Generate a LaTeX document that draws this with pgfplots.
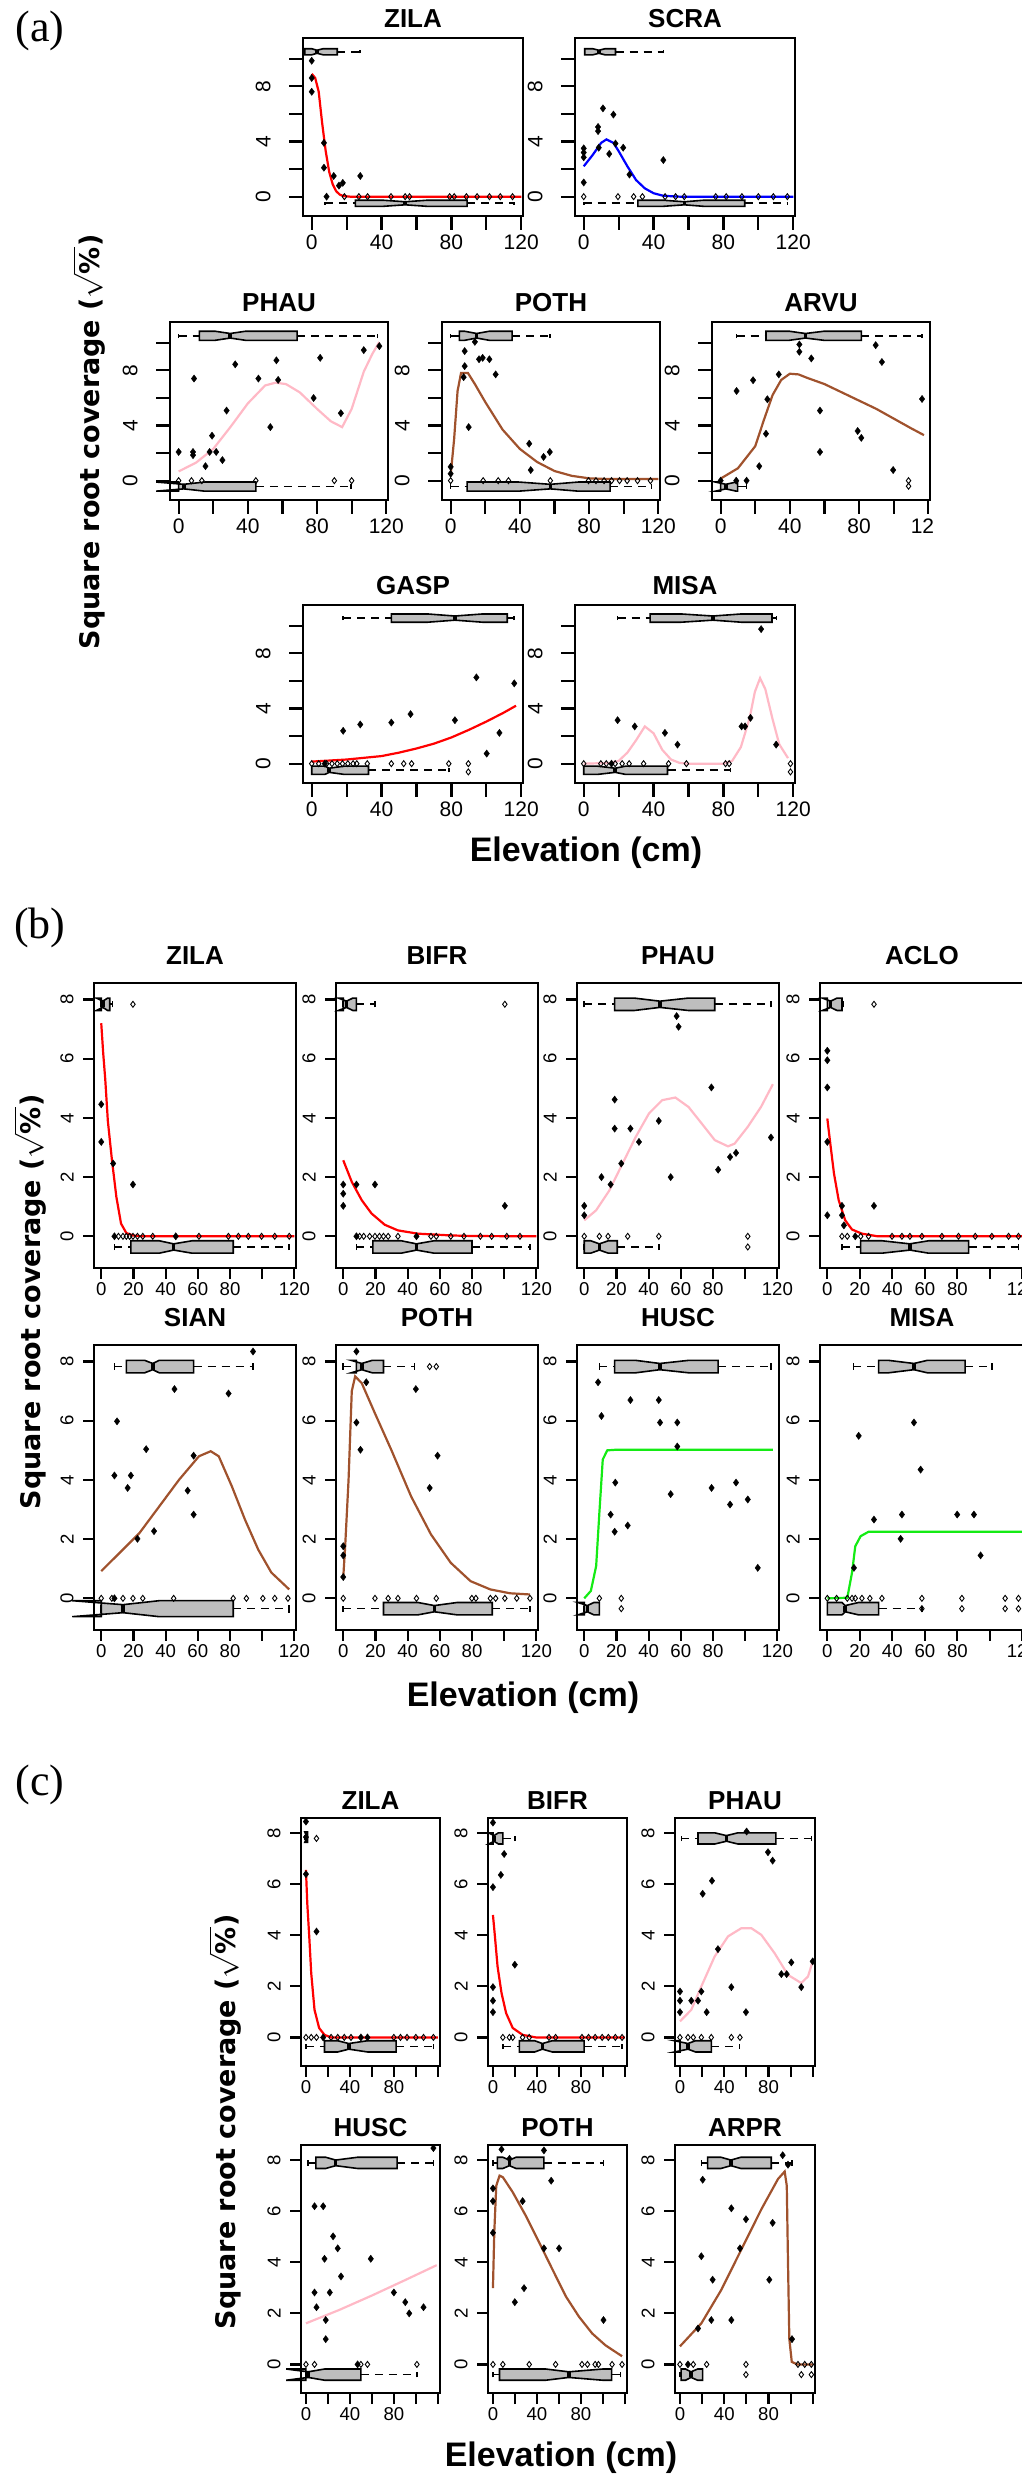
\documentclass[border=0pt]{standalone}
\usepackage{pgfplots}
\pgfplotsset{compat=1.18}
\usepackage{fontspec}
\setmainfont{Liberation Sans}
\newfontfamily\serifa{Liberation Serif}
\newfontfamily\ylabfont{DejaVu Sans}

\definecolor{rgray}{RGB}{190,190,190}
\definecolor{rpink}{RGB}{255,185,198}
\definecolor{rsienna}{RGB}{160,82,45}
\definecolor{rgreen}{RGB}{20,235,20}

\pgfplotsset{
  rpanel/.style={scale only axis, clip=false,
    axis line style={line width=1.1pt},
    tick align=outside, xtick pos=left, ytick pos=left,
    major tick length=7pt,
    every tick/.style={black, line width=1.1pt},
    yticklabel style={rotate=90, anchor=south},
    xticklabel style={anchor=north},
    title style={font=\bfseries\fontsize{13}{15}\selectfont, at={(0.5,1)}, anchor=base}},
  pa/.style={rpanel, xmin=-5, xmax=121, ymin=-1.4, ymax=11.5,
    xtick={0,20,...,120}, xticklabels={0,,40,,80,,120},
    ytick={0,2,...,10}, yticklabels={0,,4,,8,},
    ticklabel style={font=\fontsize{10.5}{12}\selectfont, inner sep=2pt},
    yticklabel shift=7pt,
    width=110pt, height=89pt, title style={yshift=-1pt}},
  pb/.style={rpanel, xmin=-4.5, xmax=121, ymin=-1.07, ymax=8.56,
    major tick length=5.5pt,
    xtick={0,20,...,120}, xticklabels={0,20,40,60,80,,120},
    ytick={0,2,...,8}, yticklabels={0,2,4,6,8},
    ticklabel style={font=\fontsize{9.3}{11}\selectfont, inner sep=1.5pt},
    yticklabel shift=3pt,
    width=101pt, height=142.5pt, title style={yshift=3pt}},
  pc/.style={rpanel, xmin=-4.5, xmax=122, ymin=-1.12, ymax=8.6,
    major tick length=5.5pt,
    xtick={0,20,...,120}, xticklabels={0,,40,,80,,},
    ytick={0,2,...,8}, yticklabels={0,2,4,6,8},
    ticklabel style={font=\fontsize{9.3}{11}\selectfont, inner sep=1.5pt},
    yticklabel shift=3pt,
    width=69.5pt, height=124pt, title style={yshift=-1.5pt}},
  dat/.style={only marks, mark=diamond*, mark size=1.8pt, black, mark options={fill=black, line width=0.2pt}},
  zr/.style={only marks, mark=diamond, mark size=1.5pt, black, mark options={line width=0.45pt}},
  cv/.style={line width=1.1pt},
  whisk/.style={black, line width=0.8pt, dash pattern=on 4pt off 3pt},
  cap/.style={black, line width=0.8pt},
  bx/.style={draw=black, fill=rgray, line width=0.8pt},
  med/.style={black, line width=1.8pt},
}

% notched horizontal box: y, half height, min, q1, notch low, median, notch high, q3, max
\newcommand{\nbox}[9]{%
  \pgfmathsetmacro\yl{#1-#2}\pgfmathsetmacro\yh{#1+#2}%
  \pgfmathsetmacro\yml{#1-0.5*#2}\pgfmathsetmacro\ymh{#1+0.5*#2}%
  \edef\tmp{%
    \noexpand\addplot[whisk] coordinates {(#3,#1) (#4,#1)};
    \noexpand\addplot[whisk] coordinates {(#8,#1) (#9,#1)};
    \noexpand\addplot[cap] coordinates {(#3,\yml) (#3,\ymh)};
    \noexpand\addplot[cap] coordinates {(#9,\yml) (#9,\ymh)};
    \noexpand\addplot[bx] coordinates {(#4,\yl) (#5,\yl) (#6,\yml) (#7,\yl) (#8,\yl) (#8,\yh) (#7,\yh) (#6,\ymh) (#5,\yh) (#4,\yh)} --cycle;
    \noexpand\addplot[med] coordinates {(#6,\yml) (#6,\ymh)};
  }\tmp}

\begin{document}
\begin{tikzpicture}
\useasboundingbox (0,0) rectangle (511pt,1240.5pt);

% ---------------- (a) ----------------
\node[font=\serifa\fontsize{22}{24}\selectfont] at (20pt,1225pt) {(a)};
\node[rotate=90, font=\ylabfont\bfseries\fontsize{13.5}{16}\selectfont] at (44.5pt,1019.5pt) {Square root coverage ($\sqrt{\mbox{\%}}$)};
\node[font=\bfseries\fontsize{17}{20}\selectfont] at (293pt,814pt) {Elevation (cm)};

\begin{axis}[pa, at={(151.5pt,1132.5pt)}, anchor=south west, title=ZILA]
\nbox{10.5}{0.22}{-4}{-4}{0}{3}{6.5}{14.6}{27.8}
\nbox{-0.48}{0.22}{7.5}{25}{41}{53.5}{66}{89}{116}
\addplot[zr] coordinates {(18.7,0)(27,0)(32,0)(45.4,0)(53.5,0)(56,0)(79,0)(81.6,0)(88.6,0)(94.7,0)(101.8,0)(108,0)(115,0)};
\addplot[dat] coordinates {(0,9.85)(0,8.6)(0,7.6)(7,3.9)(7,2.1)(12.6,1.5)(15.6,0.8)(17.8,1.0)(27.8,1.5)(8.5,0)};
\addplot[cv, red] coordinates {(0,8.9)(2,8.6)(4,7.6)(6,5.3)(8,3.3)(10,1.8)(12,0.9)(14,0.4)(16,0.15)(18,0.05)(22,0)(120,0)};
\end{axis}

\begin{axis}[pa, at={(287.5pt,1132.5pt)}, anchor=south west, title=SCRA]
\nbox{10.5}{0.22}{0.6}{0.6}{5.2}{8.7}{12.2}{18.2}{45.6}
\nbox{-0.48}{0.22}{0}{31}{45.6}{57.6}{68.6}{92.2}{116.6}
\addplot[zr] coordinates {(0,0)(19.6,0)(28.6,0)(33.6,0)(46.6,0)(52.6,0)(57.6,0)(75.6,0)(81.6,0)(90.6,0)(100,0)(108.6,0)(116.6,0)};
\addplot[dat] coordinates {(0,1.03)(0,3.5)(0,3.2)(0,2.85)(8.2,5.05)(8.2,4.75)(11,6.4)(17,5.95)(14.6,3.1)(18.2,3.85)(22.6,3.55)(26.2,1.6)(45.6,2.65)(8.6,3.55)};
\addplot[cv, blue] coordinates {(0,2.2)(5,3.0)(10,3.9)(13,4.15)(17,3.9)(20,3.3)(25,2.2)(30,1.2)(35,0.6)(40,0.25)(45,0.08)(50,0.03)(55,0)(120,0)};
\end{axis}

\begin{axis}[pa, at={(85pt,990.5pt)}, anchor=south west, width=109pt, title=PHAU]
\nbox{10.5}{0.33}{0}{12}{21}{29.8}{38.7}{68.5}{115}
\nbox{-0.43}{0.33}{0}{0}{-13}{3}{14.9}{44.6}{99.7}
\addplot[zr] coordinates {(0,0)(7.4,0)(13.4,0)(44.6,0)(90,0)(100,0)};
\addplot[dat] coordinates {(0,2.08)(8.9,7.4)(8.3,2.08)(8.3,1.85)(15.5,1.05)(19.3,3.26)(17.9,2.08)(21.7,2.08)(25.3,1.49)(27.7,5.08)(32.7,8.43)(46.1,7.4)(53,3.88)(56.5,8.72)(57.5,7.3)(78,5.99)(81.8,8.9)(93.75,4.89)(107,9.46)(116,9.75)};
\addplot[cv, rpink] coordinates {(0,0.67)(10,1.3)(20,2.3)(30,3.9)(40,5.6)(50,6.9)(56,7.1)(62,7.0)(70,6.4)(80,5.2)(88,4.3)(94.5,3.88)(100,5.2)(107,7.9)(112,9.2)(116,10.05)};
\end{axis}

\begin{axis}[pa, at={(221pt,990.5pt)}, anchor=south west, width=109pt, title=POTH]
\nbox{10.5}{0.33}{0}{5}{8}{15}{22.4}{35.5}{57.3}
\nbox{-0.43}{0.33}{0}{9.5}{39.4}{57.6}{73.7}{92.2}{116}
\addplot[zr] coordinates {(0,0)(18.8,0)(27.5,0)(33.4,0)(57.6,0)(79.7,0)(84,0)(88.7,0)(93,0)(97.6,0)(102,0)(108,0)(115.5,0)};
\addplot[dat] coordinates {(0,1.0)(0,0.5)(8.1,9.39)(8.1,8.3)(7.5,7.5)(14,10.06)(10.4,3.88)(16.4,8.8)(18.5,8.9)(22.4,8.8)(26,7.7)(45.4,2.68)(46.3,0.77)(53.7,1.72)(57.3,2.08)};
\addplot[cv, rsienna] coordinates {(0,0.4)(2,3)(4,6.5)(6,7.8)(10,7.8)(14,7.0)(20,5.7)(30,3.7)(40,2.3)(50,1.35)(60,0.7)(70,0.35)(80,0.17)(90,0.12)(120,0.12)};
\end{axis}

\begin{axis}[pa, at={(356pt,990.5pt)}, anchor=south west, width=109pt, title=ARVU, xticklabels={0,,40,,80,,12\phantom{0}}]
\nbox{10.5}{0.33}{9.2}{26.2}{39.6}{49}{59.8}{81.3}{116.4}
\nbox{-0.43}{0.33}{0}{0}{-3}{3}{9}{9.8}{15}
\addplot[zr] coordinates {(108.6,0)(108.6,-0.4)};
\addplot[dat] coordinates {(9.2,6.5)(18.75,7.28)(22.3,1.05)(26.2,3.4)(27,5.9)(33.6,7.7)(45.5,9.87)(45.5,9.34)(52.4,8.86)(57.4,5.08)(57.4,2.08)(79.2,3.6)(81.3,3.1)(89.6,9.82)(93.2,8.6)(99.7,0.77)(116.4,5.92)(0,0)(9,0)(15,0)};
\addplot[cv, rsienna] coordinates {(0,0.15)(10,0.9)(20,2.5)(25,4.4)(30,6.2)(35,7.3)(40,7.75)(45,7.7)(50,7.45)(60,7.0)(70,6.4)(80,5.8)(90,5.2)(100,4.5)(110,3.8)(117.5,3.3)};
\end{axis}

\begin{axis}[pa, at={(151.5pt,849pt)}, anchor=south west, title=GASP]
\nbox{10.55}{0.3}{18}{45.6}{66.3}{82}{98}{112}{116}
\nbox{-0.48}{0.3}{0}{0}{7.5}{10}{18.7}{32.5}{78.5}
\addplot[zr] coordinates {(0,0)(4,0)(8.5,0)(11.6,0)(14.6,0)(17.6,0)(20.7,0)(23.7,0)(25.8,0)(31.8,0)(45.6,0)(52.7,0)(57.2,0)(78.5,0)(89.7,0)(89.7,-0.6)};
\addplot[dat] coordinates {(7.5,0)(18,2.38)(27.8,2.84)(45.6,2.98)(56.6,3.59)(82,3.15)(94.3,6.25)(100.2,0.73)(107.5,2.23)(116,5.82)};
\addplot[cv, red] coordinates {(0,0.15)(20,0.3)(40,0.55)(50,0.8)(60,1.1)(70,1.45)(80,1.9)(90,2.45)(100,3.05)(110,3.7)(117,4.2)};
\end{axis}

\begin{axis}[pa, at={(287.5pt,849pt)}, anchor=south west, title=MISA]
\nbox{10.55}{0.3}{19.4}{38}{55.7}{74}{90.4}{107.8}{110.4}
\nbox{-0.48}{0.3}{0}{0}{7.8}{18}{24}{48}{84}
\addplot[zr] coordinates {(0,0)(9.8,0)(12.9,0)(18,0)(22,0)(26,0)(34.3,0)(48.6,0)(58.8,0)(81.2,0)(83.3,0)(118.4,0)(118.4,-0.6)};
\addplot[dat] coordinates {(19.4,3.15)(29.2,2.7)(46.5,2.23)(53.7,1.38)(90.4,2.7)(92.4,2.7)(95.5,3.32)(101.6,9.75)(110.2,1.38)(15.9,0)};
\addplot[cv, rpink] coordinates {(0,0)(15,0.05)(20,0.2)(25,0.8)(30,1.7)(35,2.7)(40,2.2)(45,1.0)(50,0.3)(55,0.05)(60,0)(80,0)(85,0.2)(90,1.2)(95,3.3)(98,5.2)(101,6.2)(104,5.4)(108,3.3)(112,1.4)(117,0.4)};
\end{axis}

% ---------------- (b) ----------------
\node[font=\serifa\fontsize{22}{24}\selectfont] at (20pt,776.5pt) {(b)};
\node[rotate=90, font=\ylabfont\bfseries\fontsize{13.5}{16}\selectfont] at (15pt,589.5pt) {Square root coverage ($\sqrt{\mbox{\%}}$)};
\node[font=\bfseries\fontsize{17}{20}\selectfont] at (261.5pt,391.5pt) {Elevation (cm)};

\begin{axis}[pb, at={(47pt,606.5pt)}, anchor=south west, title=ZILA]
\nbox{7.84}{0.21}{0}{0}{-3}{1}{4}{5.3}{7}
\nbox{-0.36}{0.21}{8.2}{18.4}{36}{45}{56.5}{82}{116.8}
\addplot[zr] coordinates {(19.7,7.84)(10.7,0)(13.5,0)(15.6,0)(17.6,0)(19.7,0)(22.5,0)(25.8,0)(32,0)(60.7,0)(79,0)(85.2,0)(91.4,0)(99.6,0)(107.8,0)(116.8,0)};
\addplot[dat] coordinates {(0,4.46)(0,3.19)(7.4,2.46)(19.7,1.75)(8.2,0)(46.3,0)};
\addplot[cv, red] coordinates {(0,7.2)(1.2,6.2)(2.5,5.3)(4.1,3.9)(6.6,2.6)(9.4,1.33)(12.3,0.43)(15.6,0.11)(19.7,0.03)(25,0)(120,0)};
\end{axis}

\begin{axis}[pb, at={(168pt,606.5pt)}, anchor=south west, title=BIFR]
\nbox{7.84}{0.21}{0}{0}{-3}{2}{6}{8.2}{19.7}
\nbox{-0.36}{0.21}{8.2}{18.4}{36}{45.5}{56.5}{80}{116}
\addplot[zr] coordinates {(100.4,7.84)(10.2,0)(12.7,0)(16.4,0)(19.7,0)(22.5,0)(25,0)(27.9,0)(34,0)(54.5,0)(57.8,0)(66.8,0)(75,0)(85.2,0)(92.2,0)(101.6,0)(109.8,0)};
\addplot[dat] coordinates {(0,1.75)(0,1.44)(0,1.03)(8.2,1.75)(19.7,1.75)(100.4,1.03)(8.2,0)(45.5,0)};
\addplot[cv, red] coordinates {(0,2.57)(5.3,1.84)(11.5,1.22)(17.6,0.77)(25.8,0.39)(34,0.2)(46.3,0.09)(66.8,0.03)(80,0.01)(120,0)};
\end{axis}

\begin{axis}[pb, at={(288.5pt,606.5pt)}, anchor=south west, title=PHAU]
\nbox{7.84}{0.21}{0}{18.9}{31}{47}{64.8}{81.1}{116}
\nbox{-0.36}{0.21}{0}{0}{4}{9.4}{15}{20.5}{46.3}
\addplot[zr] coordinates {(0,0)(9.4,0)(14.8,0)(27,0)(46.3,0)(101.6,0)(101.6,-0.36)};
\addplot[dat] coordinates {(0,1.03)(0,0.71)(10.7,2.0)(16.4,1.75)(18.9,4.62)(18.9,3.64)(23,2.46)(28.7,3.64)(34,3.19)(46.3,3.9)(53.7,2.0)(57.4,7.44)(58.6,7.08)(79,5.03)(83.2,2.25)(90.6,2.68)(94.3,2.82)(116,3.34)};
\addplot[cv, rpink] coordinates {(0,0.54)(7.4,0.88)(15.6,1.55)(23.8,2.46)(32,3.36)(40.2,4.15)(48.4,4.6)(56.6,4.69)(64.8,4.37)(73,3.81)(81.1,3.25)(89.3,3.04)(93.4,3.13)(101.6,3.7)(109.8,4.37)(117.2,5.14)};
\end{axis}

\begin{axis}[pb, at={(410pt,606.5pt)}, anchor=south west, width=102pt, title=ACLO]
\nbox{7.84}{0.21}{0}{0}{-3}{2}{6}{9}{10}
\nbox{-0.36}{0.21}{9}{20.5}{33.6}{50.8}{62.3}{86.9}{117.6}
\addplot[zr] coordinates {(28.7,7.84)(9,0)(12.3,0)(20.5,0)(25.4,0)(39.8,0)(45.9,0)(50.8,0)(58.2,0)(70.5,0)(80.7,0)(91,0)(101.2,0)(111.5,0)(117.6,0)};
\addplot[dat] coordinates {(0,6.27)(0,5.95)(0,5.03)(0,3.19)(0,0.71)(9,1.03)(9,0.71)(10.2,0.37)(28.7,1.03)(17.2,0)};
\addplot[cv, red] coordinates {(0,3.98)(1.6,3.24)(4.1,2.12)(7,1.22)(11,0.54)(15.2,0.23)(21.3,0.09)(31,0)(120,0)};
\end{axis}

\begin{axis}[pb, at={(47pt,425.5pt)}, anchor=south west, title=SIAN]
\nbox{7.83}{0.21}{8.2}{15.6}{27}{32}{36}{57.4}{94.3}
\nbox{-0.35}{0.27}{0}{0}{-18}{13.5}{36}{82}{116.8}
\addplot[zr] coordinates {(0,0)(6.6,0)(13.5,0)(19.7,0)(25.8,0)(45,0)(82,0)(90.2,0)(100.4,0)(107.8,0)(116,0)};
\addplot[dat] coordinates {(8.2,4.15)(9.8,5.98)(16.4,3.73)(18.4,4.15)(22.5,2.01)(27.9,5.04)(32.8,2.27)(45.5,7.07)(53.7,3.64)(57.4,4.82)(57.4,2.83)(79.1,6.92)(94.3,8.34)(8.2,0)};
\addplot[cv, rsienna] coordinates {(0,0.92)(11.5,1.54)(23.8,2.21)(36.1,3.11)(48.4,4.01)(60.7,4.8)(68,4.97)(73,4.8)(81.1,3.79)(89.3,2.66)(97.5,1.65)(105.7,0.87)(116.8,0.3)};
\end{axis}

\begin{axis}[pb, at={(168pt,425.5pt)}, anchor=south west, title=POTH]
\nbox{7.83}{0.21}{0}{8.2}{5}{11.5}{18}{25}{44.3}
\nbox{-0.35}{0.21}{0}{25}{46.3}{56.6}{70.9}{92.6}{116}
\addplot[zr] coordinates {(53.7,7.83)(57.8,7.83)(0,0)(19.7,0)(27.9,0)(34,0)(45.5,0)(57.8,0)(79.9,0)(82.4,0)(91.4,0)(94.7,0)(100.4,0)(107.8,0)(116,0)};
\addplot[dat] coordinates {(0,1.76)(0,1.45)(0,0.72)(8.2,8.34)(8.2,5.94)(10.7,5.02)(14.3,7.3)(45.1,7.07)(53.7,3.73)(58.6,4.82)};
\addplot[cv, rsienna] coordinates {(0,0.7)(1.2,1.76)(3.3,4.0)(5.3,7.0)(7.4,7.5)(11.5,7.27)(19.7,6.25)(29.9,5.01)(42.2,3.44)(54.5,2.16)(66.8,1.2)(79.1,0.58)(91.4,0.3)(103.7,0.17)(116,0.13)};
\end{axis}

\begin{axis}[pb, at={(288.5pt,425.5pt)}, anchor=south west, title=HUSC]
\nbox{7.83}{0.21}{9.4}{18.9}{32}{47}{64.8}{83.2}{116}
\nbox{-0.35}{0.21}{0}{0}{-4}{2}{6}{9.4}{9.4}
\addplot[zr] coordinates {(9.4,0)(23,0)(23,-0.35)};
\addplot[dat] coordinates {(8.6,7.3)(10.7,6.16)(19.3,3.91)(16.4,2.83)(18.9,2.25)(27,2.46)(28.7,6.7)(46.3,6.7)(47.1,5.94)(53.7,3.52)(57.8,5.94)(57.8,5.13)(79.1,3.73)(90.6,3.17)(94.3,3.91)(101.6,3.34)(107.8,1.03)};
\addplot[cv, rgreen] coordinates {(0,0)(4.1,0.25)(7.4,1.09)(9.4,2.89)(11.5,4.69)(14.3,5.0)(19.7,5.02)(117.2,5.02)};
\end{axis}

\begin{axis}[pb, at={(410pt,425.5pt)}, anchor=south west, width=102pt, title=MISA]
\nbox{7.83}{0.21}{16}{31.6}{37.7}{53.3}{61.5}{84.8}{101.2}
\nbox{-0.35}{0.21}{0}{0}{9}{11}{19.3}{31.6}{58.2}
\addplot[zr] coordinates {(0,0)(5.7,0)(12.3,0)(15.2,0)(17.2,0)(21.3,0)(26.2,0)(33.6,0)(58.2,0)(82.8,0)(109.4,0)(117.6,0)(58.2,-0.35)(82.8,-0.35)(109.4,-0.35)(117.6,-0.35)};
\addplot[dat] coordinates {(19.3,5.49)(28.7,2.66)(45.9,2.83)(45.1,2.01)(53.3,5.94)(57.4,4.35)(79.9,2.83)(90.2,2.83)(94.3,1.45)(16.4,1.03)};
\addplot[cv, rgreen] coordinates {(0,0)(12.3,0.02)(15.2,0.87)(17.2,1.76)(20.5,2.1)(25.4,2.25)(120,2.25)};
\end{axis}

% ---------------- (c) ----------------
\node[font=\serifa\fontsize{22}{24}\selectfont] at (20pt,348pt) {(c)};
\node[rotate=90, font=\ylabfont\bfseries\fontsize{13.5}{16}\selectfont] at (112.5pt,179.5pt) {Square root coverage ($\sqrt{\mbox{\%}}$)};
\node[font=\bfseries\fontsize{17}{20}\selectfont] at (280.5pt,11.5pt) {Elevation (cm)};

\begin{axis}[pc, at={(150.5pt,207.5pt)}, anchor=south west, title=ZILA]
\nbox{7.85}{0.2}{0}{0}{-1}{0}{1}{1.5}{1.5}
\nbox{-0.35}{0.22}{0}{16.9}{28.9}{39}{56}{82}{116}
\addplot[zr] coordinates {(9.6,7.8)(0,0)(4.8,0)(9.6,0)(22.9,0)(28.9,0)(34.9,0)(41,0)(80,0)(86,0)(92,0)(100,0)(107,0)(116,0)};
\addplot[dat] coordinates {(0,8.46)(0,7.85)(0,6.4)(9.6,4.15)(15.7,0)(50,0)(56,0)};
\addplot[cv, red] coordinates {(0,6.57)(1.2,5.26)(3,3.96)(4.8,2.52)(7.8,1.08)(12,0.37)(16.9,0.1)(22.9,0)(120,0)};
\end{axis}

\begin{axis}[pc, at={(244pt,207.5pt)}, anchor=south west, title=BIFR]
\nbox{7.8}{0.22}{0}{0}{-4}{1}{5}{9}{19.9}
\nbox{-0.35}{0.22}{9}{24}{38}{45}{54}{83}{117.5}
\addplot[zr] coordinates {(9,0)(15,0)(18,0)(27,0)(33,0)(51,0)(57,0)(81,0)(87,0)(93,0)(99.4,0)(105,0)(111.4,0)(117.5,0)};
\addplot[dat] coordinates {(0,8.42)(10.2,7.19)(7.2,6.37)(0,5.89)(19.9,2.85)(0,1.97)(0,1.44)(0,0.99)};
\addplot[cv, red] coordinates {(0,4.8)(1.8,3.96)(4.2,2.78)(7.8,1.74)(12,0.95)(18,0.37)(27,0.1)(39,0)(120,0)};
\end{axis}

\begin{axis}[pc, at={(337.5pt,207.5pt)}, anchor=south west, width=70pt, title=PHAU]
\nbox{7.8}{0.22}{1.2}{16.3}{31.3}{42}{52.4}{86.7}{118.7}
\nbox{-0.35}{0.22}{0}{0}{-4.8}{7.2}{14}{28.3}{53.6}
\addplot[zr] coordinates {(0,0)(7.2,0)(12,0)(19.3,0)(28.3,0)(46.4,0)(54.2,0)};
\addplot[dat] coordinates {(0,1.8)(0,1.44)(0,0.99)(10.2,1.44)(16.3,1.44)(19.3,1.8)(24.1,0.99)(20.5,5.63)(28.9,6.14)(34.3,3.46)(46.4,1.97)(59.6,0.99)(60.2,8.07)(79.5,7.26)(83.7,6.93)(91.6,2.48)(96.4,2.48)(100.6,2.94)(109.6,1.97)(119.9,2.98)};
\addplot[cv, rpink] coordinates {(0,0.63)(10.2,1.08)(19.3,2.0)(31.3,3.17)(43.4,3.96)(55.4,4.28)(64.5,4.28)(73.5,4.02)(85.5,3.3)(97.6,2.45)(109.6,2.13)(115.7,2.39)(119.9,2.98)};
\end{axis}

\begin{axis}[pc, at={(150.5pt,44pt)}, anchor=south west, title=HUSC]
\nbox{7.9}{0.22}{1.8}{9}{18}{27}{47}{83}{116}
\nbox{-0.4}{0.22}{0}{0}{-18}{2}{17}{50}{101}
\addplot[zr] coordinates {(0,0)(7.8,0)(50,0)(56,0)(101,0)};
\addplot[dat] coordinates {(116,8.48)(7.8,6.2)(15.7,6.2)(24.7,5.02)(28.9,4.55)(16.9,4.14)(31.9,3.45)(59,4.14)(7.8,2.82)(21.7,2.82)(9.6,2.24)(18,1.74)(18,0.99)(80,2.82)(90.4,2.44)(94,2.0)(107,2.24)(47,0)};
\addplot[cv, rpink] coordinates {(0,1.61)(30,2.13)(60,2.7)(90,3.3)(119,3.89)};
\end{axis}

\begin{axis}[pc, at={(244pt,44pt)}, anchor=south west, title=POTH]
\nbox{7.9}{0.22}{0}{4}{9}{15}{21}{46.4}{100.6}
\nbox{-0.4}{0.22}{0}{6}{48}{69}{100}{108}{116}
\addplot[zr] coordinates {(0,0)(9,0)(33,0)(57,0)(81,0)(86,0)(93,0)(96,0)(108.4,0)(117.5,0)};
\addplot[dat] coordinates {(7.8,8.43)(46.4,8.39)(0,6.9)(0,6.4)(0,5.16)(27,6.4)(53,7.2)(46.4,4.55)(60.2,4.55)(28.3,2.99)(19.9,2.44)(100.6,1.74)(15,8.06)};
\addplot[cv, rsienna] coordinates {(0,2.99)(1.2,5.16)(3,7.0)(6,7.4)(9,7.34)(18,6.75)(30,5.82)(42.2,4.77)(54.2,3.72)(66.3,2.67)(78.3,1.87)(90.4,1.21)(102.4,0.75)(117.5,0.32)};
\end{axis}

\begin{axis}[pc, at={(337.5pt,44pt)}, anchor=south west, width=70pt, title=ARPR]
\nbox{7.9}{0.22}{19.3}{25}{37}{46}{55}{82.5}{101.2}
\nbox{-0.4}{0.22}{0}{1}{5}{10}{16}{20.5}{20.5}
\addplot[zr] coordinates {(0,0)(12,0)(24.1,0)(59.6,0)(106.6,0)(112.7,0)(118.7,0)(59.6,-0.4)(109.6,-0.4)(118.7,-0.4)};
\addplot[dat] coordinates {(92.8,8.2)(20.5,7.24)(46.4,6.12)(59.6,5.69)(83.7,5.55)(54.2,4.55)(19.3,4.24)(29.5,3.32)(80.7,3.32)(28.3,1.74)(46.4,1.74)(16.3,1.41)(101.2,0.99)(97.6,7.83)(7.2,0)};
\addplot[cv, rsienna] coordinates {(0,0.71)(19.3,1.61)(37.3,2.92)(55.4,4.5)(73.5,6.08)(88.6,7.27)(94.6,7.56)(96.5,7.0)(97.6,4)(98.8,1.0)(101,0.1)(106,0)(120,0)};
\end{axis}

\end{tikzpicture}
\end{document}
